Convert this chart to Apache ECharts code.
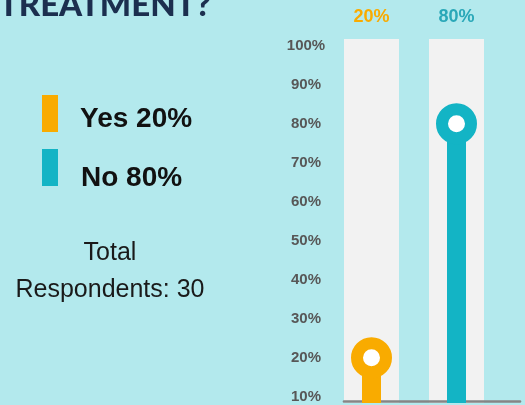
<!DOCTYPE html>
<html>
<head>
<meta charset="utf-8">
<script src="https://cdn.jsdelivr.net/npm/echarts@6/dist/echarts.min.js"></script>
<style>
html,body{margin:0;padding:0;background:#b3e9ed;}
#c{width:525px;height:405px;}
</style>
</head>
<body>
<div id="c"></div>
<script>
const categories = ['Yes', 'No'];
const values = [20, 80];
const fullValues = [101.7, 101.7];
const colors = ['#F9AB00', '#13B4C5'];
const labelColors = ['#F9AB00', '#2AA8B8'];
const yTickLabels = ['0%','10%','20%','30%','40%','50%','60%','70%','80%','90%','100%'];
const totalRespondents = 30;

const chart = echarts.init(document.getElementById('c'), null, {renderer:'canvas'});
chart.setOption({
  backgroundColor: '#b3e9ed',
  animation: false,
  grid: [
    {left: 329, width: 170, top: 39, height: 364, containLabel: false},
    {left: 344, width: 176, top: 300, height: 101}
  ],
  xAxis: [
    {gridIndex: 0, type: 'category', data: categories, show: false},
    {gridIndex: 0, type: 'category', data: categories, show: false},
    {gridIndex: 1, type: 'category', data: [''], z: 3, axisLine: {show: true, lineStyle: {color: '#858585', width: 2.6}}, axisTick: {show: false}, axisLabel: {show: false}}
  ],
  yAxis: [
    {gridIndex: 0, type: 'value', min: 8.4, max: 101.7, splitNumber: 9,
      axisLine: {show: false}, axisTick: {show: false}, splitLine: {show: false},
      axisLabel: {showMaxLabel: false, showMinLabel: false, margin: 23, align: 'center', color: '#575757', fontSize: 15, fontWeight: 'bold', fontFamily: 'Liberation Sans, Arial, sans-serif',
        formatter: function (v) { const k = Math.round(v / 10); return Math.abs(v - k * 10) < 0.01 ? (yTickLabels[k] || '') : ''; }}},
    {gridIndex: 1, type: 'value', show: false, min: 0, max: 1}
  ],
  series: [
    {type: 'bar', xAxisIndex: 0, yAxisIndex: 0, barWidth: 55, z: 1,
      data: fullValues.map((v, i) => ({value: v, label: {color: labelColors[i]}})),
      itemStyle: {color: '#F2F2F2'},
      label: {show: true, position: 'top', distance: 13, fontSize: 18, fontWeight: 'bold', fontFamily: 'Liberation Sans, Arial, sans-serif',
        formatter: p => values[p.dataIndex] + '%'}},
    {type: 'bar', xAxisIndex: 2, yAxisIndex: 1, data: [0], z: 2},
    {type: 'bar', xAxisIndex: 1, yAxisIndex: 0, barWidth: 19, z: 5,
      data: values.map((v, i) => ({value: v, itemStyle: {color: colors[i]}}))},
    {type: 'scatter', xAxisIndex: 1, yAxisIndex: 0, symbol: 'circle', symbolSize: 29, z: 6,
      data: values.map((v, i) => ({value: v, itemStyle: {color: '#FFFFFF', borderColor: colors[i], borderWidth: 12, opacity: 1}}))}
  ],
  graphic: [
    {type: 'text', right: 314, top: -11, z: 10, style: {text: 'TREATMENT?', fill: '#1C2F4F', font: '900 33px Lato, sans-serif', textAlign: 'right'}},
    {type: 'rect', left: 42, top: 95, shape: {width: 16, height: 37}, style: {fill: colors[0]}},
    {type: 'rect', left: 42, top: 149, shape: {width: 16, height: 37}, style: {fill: colors[1]}},
    {type: 'text', left: 80, top: 105, style: {text: categories[0] + ' ' + values[0] + '%', fill: '#111111', font: 'bold 28px Liberation Sans, Arial, sans-serif'}},
    {type: 'text', left: 81, top: 164, style: {text: categories[1] + ' ' + values[1] + '%', fill: '#111111', font: 'bold 28px Liberation Sans, Arial, sans-serif'}},
    {type: 'text', x: 110, y: 253, style: {text: 'Total', fill: '#1a1a1a', font: '25px Liberation Sans, Arial, sans-serif', textAlign: 'center', textVerticalAlign: 'middle'}},
    {type: 'text', x: 110, y: 290, style: {text: 'Respondents: ' + totalRespondents, fill: '#1a1a1a', font: '25px Liberation Sans, Arial, sans-serif', textAlign: 'center', textVerticalAlign: 'middle'}}
  ]
});
</script>
</body>
</html>
